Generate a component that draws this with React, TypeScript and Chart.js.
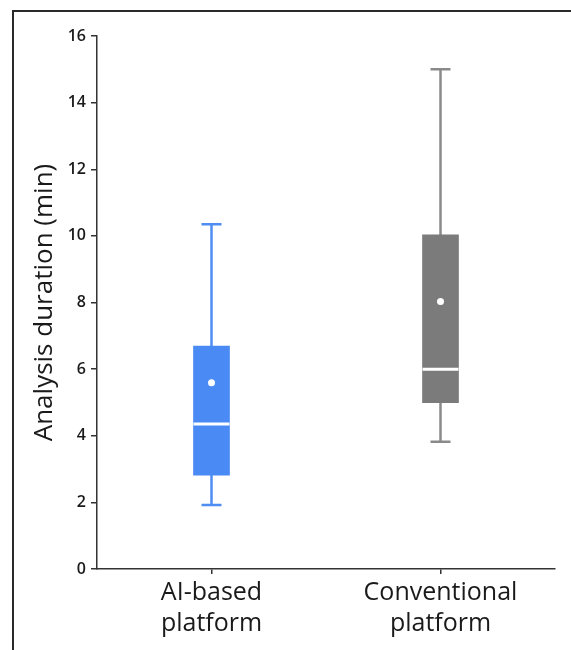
import React, { useEffect, useRef } from 'react';
import { Chart, registerables } from 'chart.js';

Chart.register(...registerables);

const categories: string[][] = [['AI-based', 'platform'], ['Conventional', 'platform']];
const whiskerLow: number[] = [1.92, 3.82];
const q1: number[] = [2.82, 4.99];
const median: number[] = [4.35, 6.0];
const q3: number[] = [6.69, 10.03];
const whiskerHigh: number[] = [10.35, 15.0];
const mean: number[] = [5.59, 8.03];
const boxColors: string[] = ['#4a8af4', '#7b7b7b'];
const whiskerColors: string[] = ['#4f8df2', '#8a8a8a'];
const yMin = 0;
const yMax = 16;
const yStep = 2;

const boxPartsPlugin = {
  id: 'boxParts',
  beforeDatasetsDraw(chart: any) {
    const { ctx, scales } = chart;
    const x = scales.x;
    const y = scales.y;
    ctx.save();
    ctx.lineWidth = 2.5;
    ctx.lineCap = 'butt';
    categories.forEach((_, i) => {
      const cx = x.getPixelForValue(i);
      const capHalf = 10;
      ctx.strokeStyle = whiskerColors[i];
      ctx.beginPath();
      ctx.moveTo(cx, y.getPixelForValue(whiskerLow[i]));
      ctx.lineTo(cx, y.getPixelForValue(q1[i]));
      ctx.moveTo(cx, y.getPixelForValue(q3[i]));
      ctx.lineTo(cx, y.getPixelForValue(whiskerHigh[i]));
      ctx.moveTo(cx - capHalf, y.getPixelForValue(whiskerLow[i]));
      ctx.lineTo(cx + capHalf, y.getPixelForValue(whiskerLow[i]));
      ctx.moveTo(cx - capHalf, y.getPixelForValue(whiskerHigh[i]));
      ctx.lineTo(cx + capHalf, y.getPixelForValue(whiskerHigh[i]));
      ctx.stroke();
    });
    ctx.restore();
  },
  afterDatasetDraw(chart: any, args: any) {
    if (args.meta.type !== 'bar') return;
    const { ctx, scales } = chart;
    const y = scales.y;
    ctx.save();
    ctx.strokeStyle = '#ffffff';
    ctx.lineWidth = 3;
    args.meta.data.forEach((bar: any, i: number) => {
      const half = bar.width / 2;
      const py = y.getPixelForValue(median[i]);
      ctx.beginPath();
      ctx.moveTo(bar.x - half, py);
      ctx.lineTo(bar.x + half, py);
      ctx.stroke();
    });
    ctx.restore();
  },
};

export default function App() {
  const canvasRef = useRef<HTMLCanvasElement | null>(null);

  useEffect(() => {
    if (!canvasRef.current) return;
    const chart = new Chart(canvasRef.current, {
      type: 'bar',
      data: {
        labels: categories as any,
        datasets: [
          {
            type: 'line',
            label: 'Mean',
            data: mean,
            showLine: false,
            pointRadius: 3.5,
            pointHoverRadius: 3.5,
            pointBackgroundColor: '#ffffff',
            pointBorderWidth: 0,
            order: 0,
          } as any,
          {
            type: 'bar',
            label: 'IQR',
            data: q1.map((v, i) => [v, q3[i]]),
            backgroundColor: boxColors,
            borderWidth: 0,
            barThickness: 36,
            order: 1,
          } as any,
        ],
      },
      options: {
        responsive: false,
        animation: false,
        layout: { padding: { top: 36, right: 16, left: 0, bottom: 0 } },
        plugins: {
          legend: { display: false },
          tooltip: { enabled: false },
        },
        scales: {
          x: {
            type: 'category',
            grid: { drawOnChartArea: false, drawTicks: true, tickLength: 5, color: '#333', lineWidth: 1.5, offset: false },
            border: { color: '#333', width: 1.5 },
            ticks: {
              color: '#1a1a1a',
              font: { family: '"Open Sans", "Noto Sans", sans-serif', size: 25, lineHeight: 1.22 },
              padding: 4,
              maxRotation: 0,
              autoSkip: false,
            },
            afterFit: (s: any) => {
              s.height = 81;
            },
          },
          y: {
            min: yMin,
            max: yMax,
            grid: { drawOnChartArea: false, drawTicks: true, tickLength: 6, color: '#333', lineWidth: 1.5 },
            border: { color: '#333', width: 1.5 },
            ticks: {
              stepSize: yStep,
              color: '#1a1a1a',
              font: { family: '"Open Sans", sans-serif', size: 16, weight: '600' },
              padding: 5,
            },
            title: {
              display: true,
              text: 'Analysis duration (min)',
              color: '#1a1a1a',
              font: { family: '"Open Sans", "Noto Sans", sans-serif', size: 26 },
              padding: { top: 29, bottom: 0 },
            },
            afterFit: (s: any) => {
              s.width = 97;
            },
          },
        },
      },
      plugins: [boxPartsPlugin],
    });
    return () => chart.destroy();
  }, []);

  return (
    <div style={{ position: 'fixed', left: 0, top: 0, width: 571, height: 650, overflow: 'hidden', background: '#fff' }}>
      <div
        style={{
          position: 'absolute',
          left: 12,
          top: 10,
          width: 700,
          height: 800,
          borderLeft: '2px solid #2a2a2a',
          borderTop: '2px solid #2a2a2a',
        }}
      />
      <canvas ref={canvasRef} width={571} height={650} style={{ position: 'absolute', left: 0, top: 0 }} />
    </div>
  );
}
